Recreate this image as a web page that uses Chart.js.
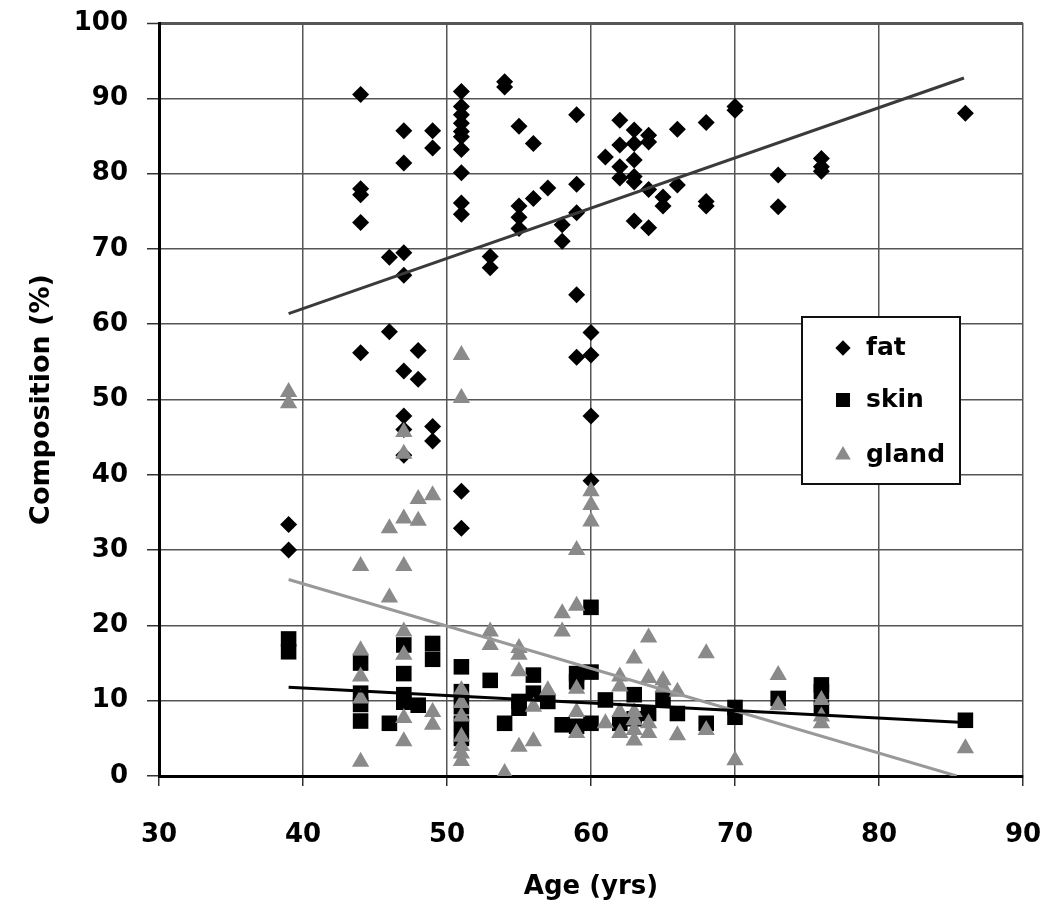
<!DOCTYPE html>
<html>
<head>
<meta charset="utf-8">
<script src="https://cdn.jsdelivr.net/npm/chart.js@4/dist/chart.umd.min.js"></script>
<style>
  html, body { margin: 0; padding: 0; background: #fff; }
  #wrap { width: 1050px; height: 915px; position: relative; }
</style>
</head>
<body>
<div id="wrap"><canvas id="c" width="1050" height="915"></canvas></div>
<script>
// ---- data ----
const fatAge = [39,39, 44,44,44,44,44, 46,46, 47,47,47,47,47,47,47,47, 48,48, 49,49,49,49,
  51,51,51,51,51,51,51,51,51,51,51,51, 53,53, 54,54, 55,55,55,55, 56,56, 57, 58,58,
  59,59,59,59,59, 60,60,60,60, 61, 62,62,62,62, 63,63,63,63,63,63, 64,64,64,64, 65,65,
  66,66, 68,68,68, 70,70, 73,73, 76,76,76, 86];
const fatPct = [33.4,30.0, 90.5,78.0,77.2,73.5,56.2, 68.9,59.0, 85.7,81.4,69.5,66.5,53.8,47.8,46.0,42.6,
  56.5,52.7, 85.7,83.4,46.4,44.5,
  90.9,88.9,87.8,86.7,85.6,84.9,83.2,80.1,76.1,74.6,37.8,32.9, 69.0,67.5, 92.2,91.5,
  86.3,75.7,74.2,72.7, 84.0,76.7, 78.1, 73.2,71.0,
  87.8,78.6,74.8,63.9,55.6, 58.9,55.9,47.8,39.2, 82.2, 87.1,83.8,80.9,79.4,
  85.8,84.0,81.8,79.6,78.9,73.7, 85.1,84.2,77.9,72.8, 76.9,75.7,
  85.9,78.5, 86.8,76.3,75.7, 88.9,88.4, 79.8,75.6, 82.0,80.9,80.3, 88.0];

const skinAge = [39,39, 44,44,44,44, 46, 47,47,47,47, 48, 49,49, 51,51,51,51,51, 53, 54,
  55,55, 56,56, 57, 58, 59,59,59, 60,60,60, 61, 62, 63,63, 64, 65, 66, 68, 70,70, 73,
  76,76,76, 86];
const skinPct = [18.2,16.5, 15.0,11.0,9.5,7.3, 7.0, 17.4,13.6,10.8,9.8, 9.4, 17.6,15.5,
  14.5,11.2,9.2,7.0,5.0, 12.7, 7.0, 9.9,9.0, 13.4,11.0, 9.9, 6.8, 13.6,12.5,6.6,
  22.4,13.8,7.0, 10.1, 7.0, 10.8,7.6, 8.3, 10.1, 8.3, 7.0, 9.1,7.8, 10.3,
  12.1,11.2,9.0, 7.4];

const glandAge = [39,39, 44,44,44,44,44, 46,46, 47,47,47,47,47,47,47,47, 48,48, 49,49,49,
  51,51,51,51,51,51,51,51,51, 53,53, 54, 55,55,55,55, 56,56, 57, 58,58,
  59,59,59,59,59, 60,60,60, 61, 62,62,62,62, 63,63,63,63,63, 64,64,64,64, 65,65,
  66,66, 68,68, 70, 73,73, 76,76,76, 86];
const glandPct = [51.0,49.5, 27.9,16.7,13.2,10.3,1.9, 32.9,23.7, 45.7,42.8,34.2,27.9,19.2,16.1,7.7,4.6,
  36.8,33.9, 37.3,8.5,6.8, 55.9,50.2,11.4,9.7,7.9,5.2,4.0,3.0,2.0, 19.2,17.4, 0.4,
  17.0,16.1,13.9,3.9, 9.2,4.6, 11.4, 21.6,19.2, 30.0,22.6,11.6,8.5,5.7, 37.8,36.0,33.8,
  7.0, 13.2,11.9,8.5,5.7, 15.6,8.5,7.4,6.1,4.7, 18.4,13.0,7.0,5.7, 12.7,11.8,
  11.2,5.4, 16.3,6.1, 2.1, 13.4,9.4, 10.1,7.9,7.0, 3.7];

// trend lines (end points)
const fatTrendAge = [39, 85.9];   const fatTrendPct = [61.4, 92.7];
const skinTrendAge = [39, 85.9];  const skinTrendPct = [11.8, 7.1];
const glandTrendAge = [39, 85.4]; const glandTrendPct = [26.1, 0];

const xTicks = [30, 40, 50, 60, 70, 80, 90];
const yTicks = [0, 10, 20, 30, 40, 50, 60, 70, 80, 90, 100];
const seriesNames = ['fat', 'skin', 'gland'];

// ---- build ----
const pts = (xs, ys) => xs.map((x, i) => ({ x: x, y: ys[i] }));
const FONT = '"Comic Sans MS", "DejaVu Sans", sans-serif';

const datasets = [
  { type: 'scatter', label: seriesNames[0], data: pts(fatAge, fatPct), pointStyle: 'rectRot',
    pointRadius: 8.5, backgroundColor: '#000', borderColor: '#000', borderWidth: 0, order: 3 },
  { type: 'scatter', label: seriesNames[1], data: pts(skinAge, skinPct), pointStyle: 'rect',
    pointRadius: 11, backgroundColor: '#000', borderColor: '#000', borderWidth: 0, order: 2 },
  { type: 'scatter', label: seriesNames[2], data: pts(glandAge, glandPct), pointStyle: 'triangle',
    pointRadius: 10, backgroundColor: '#8a8a8a', borderColor: '#8a8a8a', borderWidth: 0, order: 1 },
  { type: 'line', label: 'fatTrend', data: pts(fatTrendAge, fatTrendPct), borderColor: '#3a3a3a',
    borderWidth: 3, pointRadius: 0, fill: false, order: 0 },
  { type: 'line', label: 'skinTrend', data: pts(skinTrendAge, skinTrendPct), borderColor: '#000',
    borderWidth: 3, pointRadius: 0, fill: false, order: 0 },
  { type: 'line', label: 'glandTrend', data: pts(glandTrendAge, glandTrendPct), borderColor: '#999',
    borderWidth: 3, pointRadius: 0, fill: false, order: 0 }
];

const legendBox = {
  id: 'legendBox',
  afterDraw(chart) {
    const ctx = chart.ctx;
    const x0 = 802, y0 = 317, w = 158, h = 167;
    ctx.save();
    ctx.fillStyle = '#fff';
    ctx.fillRect(x0, y0, w, h);
    ctx.strokeStyle = '#111';
    ctx.lineWidth = 2;
    ctx.strokeRect(x0, y0, w, h);
    const rows = [348, 400, 455];
    for (let i = 0; i < 3; i++) {
      const ds = chart.data.datasets[i];
      ctx.fillStyle = ds.backgroundColor;
      ctx.strokeStyle = ds.borderColor;
      Chart.helpers.drawPoint(ctx, { pointStyle: ds.pointStyle, radius: ds.pointRadius * 0.9, rotation: 0, borderWidth: 0 }, 843, rows[i]);
      ctx.fillStyle = '#000';
      ctx.font = 'bold 25px ' + FONT;
      ctx.textBaseline = 'middle';
      ctx.textAlign = 'left';
      ctx.fillText(ds.label, 866, rows[i]);
    }
    ctx.restore();
  }
};

new Chart(document.getElementById('c'), {
  data: { datasets: datasets },
  options: {
    responsive: false,
    animation: false,
    layout: { padding: { left: 0, right: 27, top: 23, bottom: 0 } },
    plugins: { legend: { display: false }, tooltip: { enabled: false } },
    scales: {
      x: {
        type: 'linear', min: 30, max: 90,
        afterBuildTicks: (s) => { s.ticks = xTicks.map(v => ({ value: v })); },
        afterFit: (s) => { s.height = 139; s.paddingLeft = 0; s.paddingRight = 0; },
        grid: { color: '#555', lineWidth: 1.5, tickLength: 10, tickColor: '#333', tickWidth: 1.5 },
        border: { color: '#000', width: 3 },
        ticks: { color: '#000', padding: 34, font: { family: FONT, size: 26, weight: 'bold' } },
        title: { display: true, text: 'Age (yrs)', color: '#000', padding: { top: 0, bottom: 12 },
          font: { family: FONT, size: 26, weight: 'bold' } }
      },
      y: {
        type: 'linear', min: 0, max: 100,
        afterBuildTicks: (s) => { s.ticks = yTicks.map(v => ({ value: v })); },
        afterFit: (s) => { s.width = 159; s.paddingTop = 0; s.paddingBottom = 0; },
        grid: { color: '#555', lineWidth: (c) => (c.tick && c.tick.value === 100 ? 3 : 1.5),
          tickLength: 12, tickColor: '#333', tickWidth: 1.5 },
        border: { color: '#000', width: 3 },
        ticks: { color: '#000', padding: 19, font: { family: FONT, size: 26, weight: 'bold' } },
        title: { display: true, text: 'Composition (%)', color: '#000', padding: { top: 26, bottom: 0 },
          font: { family: FONT, size: 27, weight: 'bold' } }
      }
    }
  },
  plugins: [legendBox]
});
</script>
</body>
</html>
